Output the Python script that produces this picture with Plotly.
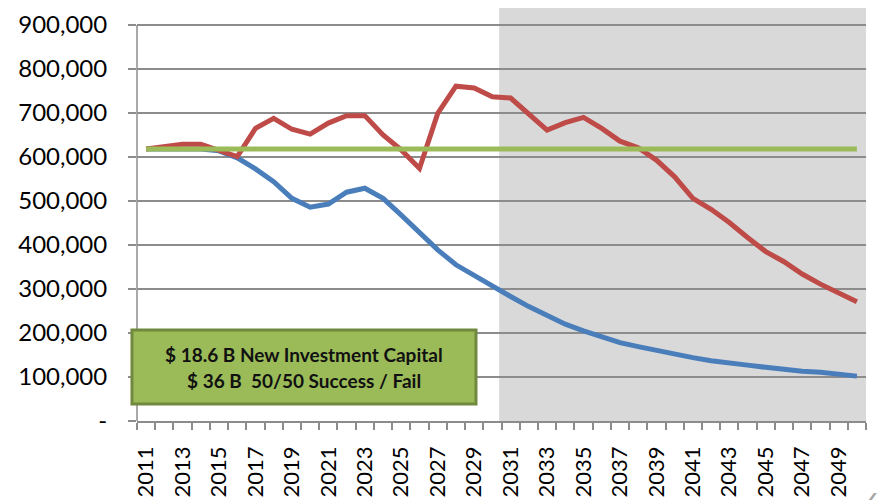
import plotly.graph_objects as go

years = list(range(2011, 2051))

blue = [618000, 618000, 618000, 618000, 614000, 598000, 573000, 544000, 506000, 486000,
        493000, 520000, 529000, 506000, 468000, 427000, 389000, 355000, 330000, 306000,
        283000, 260000, 239000, 220000, 205000, 190000, 178000, 169000, 160000, 151000,
        144000, 137000, 131000, 127000, 122000, 117000, 113000, 111000, 107000, 102000]

red = [618000, 623000, 629000, 629000, 616000, 601000, 665000, 688000, 663000, 652000,
       677000, 694000, 694000, 650000, 616000, 574000, 699000, 761000, 757000, 737000,
       734000, 697000, 661000, 678000, 690000, 665000, 636000, 621000, 593000, 555000,
       506000, 481000, 451000, 417000, 385000, 362000, 334000, 311000, 292000, 271000]

green = [618000] * len(years)

y_tickvals = [0, 100000, 200000, 300000, 400000, 500000, 600000, 700000, 800000, 900000]
y_ticktext = ["-", "100,000", "200,000", "300,000", "400,000", "500,000",
              "600,000", "700,000", "800,000", "900,000"]
x_tickvals = years[::2]
x_ticktext = [str(y) for y in x_tickvals]

box_line1 = "$ 18.6 B New Investment Capital"
box_line2 = "$ 36 B\u00a0\u00a050/50 Success / Fail"

FONT = "Lato"
GRID = "#8C8C8C"

fig = go.Figure()
fig.add_trace(go.Scatter(x=years, y=blue, mode="lines", line=dict(color="#4A7EBB", width=5), showlegend=False))
fig.add_trace(go.Scatter(x=years, y=red, mode="lines", line=dict(color="#BE4B48", width=5), showlegend=False))
fig.add_trace(go.Scatter(x=years, y=green, mode="lines", line=dict(color="#9BBB59", width=5), showlegend=False))

# shaded forecast region
fig.add_shape(type="rect", xref="x", yref="paper", x0=2030.37, x1=years[-1] + 0.5, y0=0, y1=1,
              fillcolor="#D9D9D9", line=dict(width=0), layer="below")
# left axis line (stops at top tick)
fig.add_shape(type="line", xref="paper", yref="y", x0=0, x1=0, y0=0, y1=y_tickvals[-1],
              line=dict(color=GRID, width=1.5), layer="above")
# text box
fig.add_shape(type="rect", xref="paper", yref="paper", x0=-0.0069, x1=0.465, y0=0.0412, y1=0.2203,
              fillcolor="#9BBB59", line=dict(color="#71893F", width=3), layer="above")

fig.add_annotation(xref="paper", yref="paper", x=0.229, y=0.162, text=box_line1, showarrow=False,
                   font=dict(family=FONT, size=19, color="#111111", weight="bold"), xanchor="center", yanchor="middle")
fig.add_annotation(xref="paper", yref="paper", x=0.229, y=0.097, text=box_line2, showarrow=False,
                   font=dict(family=FONT, size=19, color="#111111", weight="bold"), xanchor="center", yanchor="middle")
# page number fragment
fig.add_annotation(xref="paper", yref="paper", x=0.996, y=-0.155, text="6", showarrow=False,
                   font=dict(family=FONT, size=26, color="#A6A6A6"), xanchor="left", yanchor="top")

fig.update_layout(
    width=887, height=500,
    margin=dict(l=129, r=29, t=0, b=87),
    paper_bgcolor="white", plot_bgcolor="white",
    font=dict(family=FONT, size=24, color="#000000"),
    xaxis=dict(
        range=[years[0] - 0.5, years[-1] + 0.5],
        tickmode="array", tickvals=x_tickvals, ticktext=x_ticktext,
        tickangle=-90, ticks="", showgrid=False, zeroline=False,
        showline=True, linecolor=GRID, linewidth=1.5,
        ticklabelstandoff=15, automargin=False,
        tickfont=dict(family=FONT, size=22, color="#000000"),
        minor=dict(tickmode="array", tickvals=[y - 0.5 for y in years] + [years[-1] + 0.5],
                   ticks="outside", ticklen=7, tickwidth=1.5, tickcolor=GRID, showgrid=False),
    ),
    yaxis=dict(
        range=[0, 938600],
        tickmode="array", tickvals=y_tickvals, ticktext=y_ticktext,
        ticks="outside", ticklen=8, tickwidth=1.5, tickcolor=GRID,
        showgrid=True, gridcolor=GRID, gridwidth=1.5,
        zeroline=False, showline=False,
        ticklabelstandoff=16, automargin=False,
        tickfont=dict(family=FONT, size=24, color="#000000"),
    ),
)

fig.write_html("out.html")
